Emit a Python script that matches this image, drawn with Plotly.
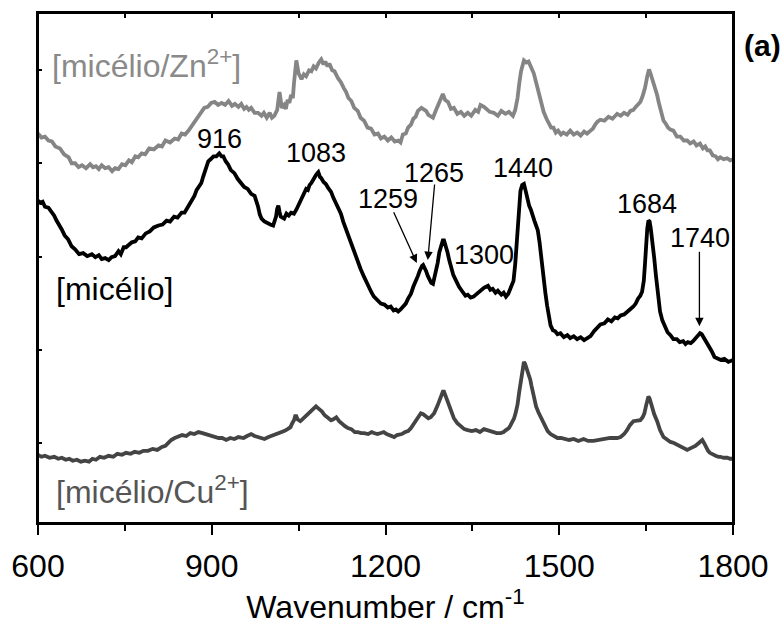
import plotly.graph_objects as go

# ---------------- data ----------------
# (wavenumber / cm-1, intensity a.u. with stacking offset) for each spectrum
zn_points = [
    (600, 394), (606, 390), (612, 391), (618, 387), (624, 386), (630, 381), (638, 379), (645, 373), (653, 370),
    (658, 364), (664, 364), (670, 360), (676, 362), (683, 359), (690, 363), (695, 360), (700, 361), (705, 358),
    (710, 362), (716, 359), (722, 360), (728, 356), (733, 359), (739, 358), (745, 363), (751, 362), (757, 367),
    (762, 365), (768, 371), (773, 370), (779, 374), (785, 373), (792, 379), (800, 378), (808, 382), (814, 381),
    (820, 387), (828, 385), (836, 389), (842, 388), (848, 394), (854, 393), (860, 397), (865, 401), (870, 405),
    (876, 411), (882, 416), (887, 420), (893, 421), (899, 425), (905, 426), (911, 423), (917, 425), (923, 423),
    (929, 427), (935, 422), (940, 424), (946, 421), (951, 424), (956, 419), (960, 421), (964, 418), (968, 420),
    (974, 415), (980, 415), (986, 412), (990, 415), (995, 410), (1000, 415), (1004, 410), (1008, 412),
    (1013, 418), (1017, 436), (1021, 420), (1025, 423), (1028, 419), (1031, 428), (1034, 425), (1037, 433),
    (1040, 430), (1042, 445), (1046, 468), (1050, 455), (1055, 449), (1059, 454), (1063, 452), (1068, 458),
    (1072, 457), (1076, 462), (1080, 460), (1085, 466), (1089, 469), (1093, 464), (1096, 467), (1100, 462),
    (1103, 465), (1108, 458), (1112, 457), (1118, 450), (1123, 446), (1128, 440), (1132, 436), (1136, 430),
    (1141, 427), (1146, 420), (1152, 417), (1157, 410), (1163, 407), (1169, 400), (1175, 399), (1181, 393),
    (1187, 394), (1192, 389), (1198, 391), (1204, 387), (1210, 390), (1216, 386), (1222, 387), (1226, 385),
    (1230, 393), (1235, 394), (1239, 400), (1244, 403), (1248, 409), (1252, 411), (1256, 417), (1262, 420),
    (1266, 418), (1270, 417), (1274, 413), (1278, 412), (1282, 410), (1286, 416), (1290, 421), (1295, 428),
    (1299, 434), (1303, 428), (1308, 426), (1313, 419), (1318, 420), (1324, 414), (1330, 416), (1336, 412),
    (1342, 415), (1348, 412), (1355, 418), (1360, 416), (1364, 423), (1370, 421), (1375, 418), (1380, 416),
    (1387, 415), (1394, 412), (1400, 417), (1407, 414), (1413, 416), (1420, 412), (1424, 418), (1428, 430),
    (1431, 445), (1434, 457), (1439, 468), (1443, 466), (1447, 467), (1452, 460), (1456, 455), (1460, 446),
    (1464, 436), (1469, 424), (1473, 416), (1478, 409), (1482, 404), (1486, 400), (1490, 400), (1494, 395),
    (1498, 397), (1503, 393), (1507, 395), (1513, 393), (1519, 397), (1525, 393), (1531, 395), (1537, 392),
    (1543, 396), (1548, 394), (1554, 397), (1558, 399), (1562, 403), (1566, 406), (1571, 408), (1578, 407),
    (1585, 411), (1592, 409), (1600, 414), (1606, 412), (1612, 415), (1618, 413), (1623, 417), (1628, 418),
    (1632, 421), (1636, 423), (1640, 426), (1644, 432), (1648, 440), (1652, 452), (1655, 459), (1658, 454),
    (1662, 447), (1665, 440), (1669, 433), (1672, 425), (1675, 418), (1678, 411), (1680, 407), (1684, 404),
    (1688, 400), (1692, 398), (1697, 397), (1703, 391), (1709, 391), (1715, 387), (1721, 387), (1726, 384),
    (1732, 386), (1737, 382), (1743, 384), (1748, 379), (1752, 381), (1756, 377), (1760, 377), (1765, 372),
    (1770, 371), (1774, 368), (1778, 370), (1784, 368), (1790, 369), (1795, 367), (1800, 368)]

mic_points = [
    (600, 326), (604, 324), (608, 325), (612, 320), (618, 319), (624, 315), (628, 311), (632, 306), (636, 301),
    (641, 297), (646, 291), (652, 287), (658, 280), (664, 277), (671, 272), (678, 273), (685, 270), (693, 272),
    (699, 269), (705, 271), (710, 267), (716, 268), (722, 266), (727, 269), (733, 270), (739, 275), (743, 272),
    (748, 279), (752, 279), (757, 282), (762, 284), (768, 285), (773, 289), (779, 288), (786, 293), (793, 295),
    (800, 299), (808, 301), (815, 302), (822, 306), (828, 305), (835, 310), (841, 309), (848, 314), (853, 314),
    (857, 318), (861, 322), (865, 327), (870, 331), (874, 337), (878, 340), (882, 344), (885, 350), (888, 356),
    (891, 362), (894, 366), (898, 368), (903, 371), (908, 371), (913, 374), (917, 371), (920, 371), (924, 366),
    (928, 363), (933, 357), (939, 354), (945, 348), (951, 344), (956, 340), (962, 338), (968, 333), (974, 331),
    (977, 326), (980, 320), (983, 312), (986, 308), (991, 305), (996, 304), (1001, 302), (1006, 301),
    (1009, 305), (1011, 310), (1013, 318), (1015, 321), (1017, 315), (1019, 310), (1022, 309), (1025, 308),
    (1029, 313), (1033, 311), (1037, 314), (1042, 313), (1046, 317), (1050, 322), (1055, 328), (1060, 333),
    (1063, 338), (1066, 337), (1069, 342), (1072, 344), (1075, 348), (1078, 350), (1081, 353), (1084, 355),
    (1087, 350), (1089, 349), (1093, 345), (1097, 343), (1101, 339), (1106, 335), (1110, 329), (1114, 324),
    (1118, 319), (1123, 313), (1127, 305), (1132, 297), (1136, 288), (1141, 280), (1146, 272), (1152, 264),
    (1157, 257), (1163, 249), (1168, 242), (1172, 238), (1176, 233), (1180, 229), (1186, 226), (1192, 222),
    (1198, 221), (1204, 218), (1209, 219), (1214, 215), (1218, 216), (1222, 214), (1226, 216), (1230, 219),
    (1235, 222), (1239, 227), (1244, 232), (1248, 239), (1252, 244), (1256, 250), (1259, 255), (1261, 258),
    (1263, 260), (1265, 261), (1267, 259), (1270, 255), (1273, 250), (1276, 246), (1279, 243), (1282, 242),
    (1286, 252), (1290, 263), (1293, 274), (1296, 282), (1299, 286), (1301, 286), (1304, 281), (1307, 274),
    (1310, 266), (1313, 259), (1317, 251), (1322, 245), (1327, 239), (1333, 234), (1338, 230), (1342, 231),
    (1347, 228), (1352, 229), (1358, 232), (1365, 235), (1370, 238), (1377, 240), (1381, 236), (1385, 237),
    (1390, 233), (1394, 235), (1400, 231), (1404, 233), (1408, 229), (1412, 232), (1415, 236), (1418, 240),
    (1421, 245), (1424, 262), (1427, 283), (1430, 312), (1433, 336), (1436, 342), (1439, 343), (1442, 336),
    (1445, 328), (1448, 321), (1451, 317), (1454, 310), (1457, 306), (1460, 301), (1463, 296), (1466, 284),
    (1468, 272), (1471, 258), (1473, 247), (1476, 233), (1479, 220), (1482, 207), (1485, 200), (1489, 195),
    (1493, 194), (1497, 191), (1502, 192), (1508, 188), (1514, 190), (1519, 187), (1525, 189), (1531, 186),
    (1537, 188), (1543, 185), (1549, 187), (1554, 189), (1560, 194), (1565, 197), (1571, 201), (1578, 202),
    (1584, 206), (1590, 204), (1596, 208), (1601, 207), (1606, 210), (1612, 211), (1617, 214), (1622, 216),
    (1628, 219), (1632, 222), (1636, 227), (1640, 230), (1643, 234), (1646, 245), (1648, 262), (1650, 284),
    (1652, 298), (1654, 306), (1656, 305), (1658, 298), (1660, 290), (1662, 282), (1664, 268), (1667, 250),
    (1670, 230), (1674, 214), (1678, 205), (1682, 199), (1687, 193), (1692, 190), (1697, 186), (1703, 186),
    (1708, 183), (1714, 184), (1718, 181), (1722, 183), (1727, 182), (1731, 184), (1735, 187), (1739, 190),
    (1743, 192), (1746, 191), (1749, 188), (1752, 185), (1755, 183), (1759, 178), (1763, 174), (1768, 168),
    (1773, 167), (1779, 165), (1785, 166), (1792, 163), (1800, 165)]

cu_points = [
    (600, 69), (606, 67), (612, 68), (620, 66), (628, 67), (635, 65), (641, 66), (648, 64), (654, 65), (660, 63),
    (667, 64), (674, 62), (681, 63), (688, 62), (694, 65), (700, 64), (707, 67), (714, 66), (722, 68), (730, 67),
    (737, 70), (745, 69), (752, 71), (760, 70), (767, 72), (775, 71), (782, 73), (790, 73), (798, 75), (806, 74),
    (814, 77), (820, 78), (825, 81), (830, 84), (836, 86), (842, 87), (849, 89), (856, 88), (863, 91), (870, 90),
    (877, 92), (884, 91), (890, 90), (895, 89), (901, 88), (906, 87), (912, 86), (918, 86), (925, 84), (932, 86),
    (939, 85), (946, 87), (955, 86), (961, 88), (968, 90), (974, 88), (980, 87), (986, 86), (991, 85), (998, 87),
    (1003, 88), (1008, 89), (1014, 91), (1019, 91), (1025, 93), (1031, 95), (1036, 97), (1039, 101), (1042, 104),
    (1044, 108), (1046, 108), (1048, 105), (1050, 104), (1053, 103), (1055, 104), (1060, 107), (1064, 109),
    (1067, 111), (1071, 113), (1075, 116), (1080, 118), (1084, 116), (1090, 113), (1095, 109), (1101, 106),
    (1106, 104), (1110, 105), (1115, 107), (1120, 103), (1125, 100), (1130, 98), (1135, 96), (1141, 95),
    (1147, 92), (1152, 92), (1158, 91), (1163, 91), (1170, 90), (1176, 92), (1180, 91), (1186, 90), (1192, 91),
    (1197, 92), (1202, 90), (1206, 89), (1210, 88), (1215, 87), (1220, 89), (1228, 90), (1234, 92), (1239, 93),
    (1244, 96), (1250, 101), (1255, 105), (1261, 111), (1265, 110), (1270, 108), (1274, 106), (1278, 107),
    (1284, 111), (1290, 119), (1295, 127), (1299, 133), (1301, 133), (1305, 126), (1310, 118), (1314, 111),
    (1318, 106), (1324, 101), (1330, 98), (1336, 95), (1342, 94), (1349, 93), (1356, 94), (1363, 92), (1370, 95),
    (1377, 94), (1385, 92), (1392, 91), (1399, 91), (1404, 92), (1408, 94), (1413, 96), (1416, 99), (1419, 102),
    (1422, 106), (1425, 112), (1428, 120), (1431, 133), (1434, 147), (1437, 160), (1439, 163), (1441, 161),
    (1443, 158), (1445, 153), (1447, 151), (1450, 145), (1452, 139), (1454, 133), (1456, 127), (1460, 118),
    (1464, 112), (1468, 107), (1473, 100), (1476, 96), (1480, 93), (1485, 90), (1490, 88), (1497, 86),
    (1503, 86), (1510, 85), (1517, 84), (1525, 85), (1533, 83), (1542, 85), (1550, 83), (1559, 83), (1567, 84),
    (1575, 85), (1582, 86), (1588, 86), (1595, 86), (1600, 86), (1606, 87), (1612, 90), (1617, 94), (1622, 99),
    (1628, 103), (1634, 104), (1640, 104), (1644, 107), (1647, 111), (1650, 119), (1652, 125), (1654, 128),
    (1656, 126), (1658, 121), (1660, 117), (1664, 110), (1669, 103), (1674, 94), (1680, 87), (1686, 84),
    (1692, 82), (1698, 81), (1704, 79), (1709, 77), (1714, 76), (1718, 75), (1721, 74), (1728, 76), (1735, 78),
    (1741, 81), (1745, 84), (1747, 84), (1750, 81), (1753, 77), (1757, 73), (1760, 71), (1765, 69), (1770, 68),
    (1775, 67), (1778, 67), (1784, 66), (1790, 66), (1795, 65), (1800, 65)]

wn_zn, int_zn = [list(v) for v in zip(*zn_points)]
wn_mic, int_mic = [list(v) for v in zip(*mic_points)]
wn_cu, int_cu = [list(v) for v in zip(*cu_points)]

x_ticks = [600, 900, 1200, 1500, 1800]

# peak labels: text, x (wavenumber), y (intensity)
peak_text = ["916", "1083", "1259", "1265", "1300", "1440", "1684", "1740"]
peak_x = [913, 1080, 1204, 1284, 1370, 1438, 1652, 1743]
peak_y = [389, 374, 328, 354, 271, 359, 323, 288]

# arrows: tip (x, y) and tail (x, y)
arrow_tip_x = [1254, 1273, 1742]
arrow_tip_y = [263, 266, 199]
arrow_tail_x = [1213, 1285, 1742]
arrow_tail_y = [316, 344, 276]

FONT = "Liberation Sans, Arial, sans-serif"
C_ZN = "#858585"
C_MIC = "#000000"
C_CU = "#444444"

fig = go.Figure()
fig.add_trace(go.Scatter(x=wn_zn, y=int_zn, mode="lines",
                         line=dict(color=C_ZN, width=3.8), showlegend=False, hoverinfo="skip"))
fig.add_trace(go.Scatter(x=wn_mic, y=int_mic, mode="lines",
                         line=dict(color=C_MIC, width=3.8), showlegend=False, hoverinfo="skip"))
fig.add_trace(go.Scatter(x=wn_cu, y=int_cu, mode="lines",
                         line=dict(color=C_CU, width=3.8), showlegend=False, hoverinfo="skip"))
# transparent copy on the mirrored top axis so that its inward ticks get drawn
fig.add_trace(go.Scatter(x=wn_mic, y=int_mic, mode="lines", xaxis="x2", yaxis="y",
                         line=dict(color="rgba(0,0,0,0)", width=0), showlegend=False, hoverinfo="skip"))

annotations = []
for t, xx, yy in zip(peak_text, peak_x, peak_y):
    annotations.append(dict(x=xx, y=yy, xref="x", yref="y", text=t, showarrow=False,
                            font=dict(family=FONT, size=27, color="#000000"),
                            xanchor="center", yanchor="middle"))
for tx, ty, ax, ay in zip(arrow_tip_x, arrow_tip_y, arrow_tail_x, arrow_tail_y):
    annotations.append(dict(x=tx, y=ty, xref="x", yref="y", ax=ax, ay=ay, axref="x", ayref="y",
                            text="", showarrow=True, arrowhead=2, arrowsize=1.3, arrowwidth=1.3,
                            arrowcolor="#000000", standoff=0, startstandoff=0))

annotations += [
    dict(x=621, y=464, xref="x", yref="y", text="[micélio/Zn<sup>2+</sup>]", showarrow=False,
         font=dict(family=FONT, size=32, color="#8a8a8a"), xanchor="left", yanchor="middle"),
    dict(x=627, y=237, xref="x", yref="y", text="[micélio]", showarrow=False,
         font=dict(family=FONT, size=32, color="#000000"), xanchor="left", yanchor="middle"),
    dict(x=627, y=33, xref="x", yref="y", text="[micélio/Cu<sup>2+</sup>]", showarrow=False,
         font=dict(family=FONT, size=32, color="#555555"), xanchor="left", yanchor="middle"),
    dict(x=1.013, y=0.936, xref="paper", yref="paper", text="<b>(a)</b>", showarrow=False,
         font=dict(family=FONT, size=30, color="#000000"), xanchor="left", yanchor="middle"),
]

axis_common = dict(showgrid=False, zeroline=False, showline=True, linecolor="#000000", linewidth=2)

fig.update_layout(
    width=783, height=626,
    margin=dict(l=36, r=50, t=11, b=100),
    plot_bgcolor="#ffffff", paper_bgcolor="#ffffff",
    font=dict(family=FONT, color="#000000"),
    showlegend=False,
    annotations=annotations,
    # plot frame
    shapes=[dict(type="rect", xref="paper", yref="paper", x0=0, x1=1, y0=0, y1=1,
                 line=dict(color="#000000", width=2), fillcolor="rgba(0,0,0,0)", layer="above")],
    xaxis=dict(**axis_common, mirror=True, range=[600, 1800], tickvals=x_ticks,
               ticktext=[str(v) for v in x_ticks],
               ticks="outside", ticklen=10, tickwidth=2, tickcolor="#000000",
               tickfont=dict(family=FONT, size=32, color="#000000"), ticklabelstandoff=4,
               minor=dict(dtick=150, tick0=600, ticks="outside", ticklen=6, tickwidth=2, tickcolor="#000000"),
               title=dict(text="Wavenumber / cm<sup>-1</sup>", font=dict(family=FONT, size=32, color="#000000"),
                          standoff=8)),
    xaxis2=dict(**axis_common, range=[600, 1800], overlaying="x", side="top", anchor="free", position=1.0,
                tickmode="linear", tick0=600, dtick=150, ticks="inside", ticklen=4, tickwidth=2,
                tickcolor="#000000", showticklabels=False),
    yaxis=dict(**axis_common, mirror=True, range=[0, 516], tick0=81, dtick=94.3, ticks="inside", ticklen=4,
               tickwidth=2, tickcolor="#000000", showticklabels=False),
    yaxis2=dict(**axis_common, range=[0, 516], overlaying="y", side="right", anchor="x",
                tick0=81, dtick=94.3, ticks="inside", ticklen=4, tickwidth=2, tickcolor="#000000",
                showticklabels=False),
)

fig.write_html("out.html")
